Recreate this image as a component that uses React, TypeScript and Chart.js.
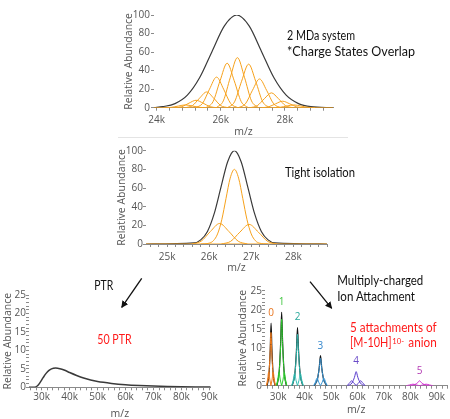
import React, { useEffect, useRef } from "react";
import { Chart, registerables } from "chart.js";
Chart.register(...registerables);

type Pt = [number, number];

// ---------------- DATA ----------------
// Panel 1: 2 MDa system, overlapping charge states
const topEnvelope: Pt[] = [
  [23920, 0], [24190, 1.1], [24575, 4.4], [24960, 13.5], [25345, 32.5], [25730, 60.7], [26115, 88.2],
  [26500, 100], [26885, 88.2], [27270, 60.7], [27655, 32.5], [28040, 13.5], [28425, 4.4], [28810, 1.1], [29500, 0],
];
const topStates: Pt[][] = [
  [[24240, 0], [24460, 0.4], [24680, 1.8], [24900, 3], [25120, 1.8], [25340, 0.4], [25560, 0]],
  [[24570, 0], [24790, 1.1], [25010, 4.9], [25230, 8], [25450, 4.9], [25670, 1.1], [25890, 0]],
  [[24900, 0], [25120, 2.3], [25340, 10.3], [25560, 17], [25780, 10.3], [26000, 2.3], [26220, 0]],
  [[25210, 0], [25430, 4.5], [25650, 20], [25870, 33], [26090, 20], [26310, 4.5], [26530, 0]],
  [[25540, 0], [25760, 6.5], [25980, 29.1], [26200, 48], [26420, 29.1], [26640, 6.5], [26860, 0]],
  [[25860, 0], [26080, 7.3], [26300, 32.8], [26520, 54], [26740, 32.8], [26960, 7.3], [27180, 0]],
  [[26210, 0], [26430, 6.3], [26650, 28.5], [26870, 47], [27090, 28.5], [27310, 6.3], [27530, 0]],
  [[26550, 0], [26770, 4.2], [26990, 18.8], [27210, 31], [27430, 18.8], [27650, 4.2], [27870, 0]],
  [[26920, 0], [27140, 2.2], [27360, 9.7], [27580, 16], [27800, 9.7], [28020, 2.2], [28240, 0]],
  [[27270, 0], [27490, 0.9], [27710, 4.2], [27930, 7], [28150, 4.2], [28370, 0.9], [28590, 0]],
  [[27620, 0], [27840, 0.4], [28060, 1.8], [28280, 3], [28500, 1.8], [28720, 0.4], [28940, 0]],
];
const topBaseline: Pt[] = [[23920, 0], [29500, 0]];
const topXLabels = [24000, 26000, 28000];

// Panel 2: tight isolation
const isoEnvelope: Pt[] = [
  [24500, 0], [25640, 1.1], [25800, 4.4], [25960, 13.5], [26120, 32.5], [26280, 60.7], [26440, 88.2],
  [26600, 100], [26760, 88.2], [26920, 60.7], [27080, 32.5], [27240, 13.5], [27400, 4.4], [27560, 1.1], [28800, 0],
];
const isoStates: Pt[][] = [
  [[25800, 0], [26000, 0.9], [26100, 3.5], [26200, 10.8], [26300, 26], [26400, 48.6], [26500, 70.6], [26600, 80],
   [26700, 70.6], [26800, 48.6], [26900, 26], [27000, 10.8], [27100, 3.5], [27200, 0.9], [27400, 0]],
  [[25590, 0], [25810, 3], [26030, 13.4], [26250, 22], [26470, 13.4], [26690, 3], [26910, 0]],
  [[26290, 0], [26510, 2.8], [26730, 12.7], [26950, 21], [27170, 12.7], [27390, 2.8], [27610, 0]],
];
const isoBaseline: Pt[] = [[24500, 0], [28800, 0]];
const isoXLabels = [25000, 26000, 27000, 28000];

// Panel 3: 50 PTR
const ptrCurve: Pt[] = [
  [25450, 0], [27500, 0], [28500, 0.4], [29500, 1.4], [30500, 2.6], [31500, 3.7], [32500, 4.5], [33500, 5.0],
  [35000, 5.2], [36500, 5.05], [38000, 4.7], [40000, 4.0], [42500, 3.2], [45000, 2.5], [47500, 1.95], [50000, 1.55],
  [55000, 1.05], [60000, 0.7], [65000, 0.48], [70000, 0.33], [75000, 0.23], [80000, 0.16], [85000, 0.11], [90500, 0.07],
];
const wideXLabels = [30000, 40000, 50000, 60000, 70000, 80000, 90000];

// Panel 4: multiply-charged ion attachment (0..5 attachments)
const attachLabels = ["0", "1", "2", "3", "4", "5"];
const attachCenters = [27300, 31300, 37300, 46000, 59500, 83500];
const attachTops = [16.5, 19.3, 15.3, 7.9, 3.7, 1.3];
const attachColors = ["#f07d1e", "#2fd12f", "#2fbdb3", "#3a98d8", "#5a3dcc", "#d22fd2"];
const attachLabelColors = ["#e8731c", "#3fc43f", "#27a89a", "#3386cc", "#6a4bc8", "#b43cb4"];
const attachBlack: Pt[][] = [
  [[25800, 0], [26550, 3.3], [27000, 9.9], [27300, 16.5], [27600, 9.9], [28050, 3.3], [28800, 0]],
  [[29500, 0], [30400, 3.9], [30940, 11.6], [31300, 19.3], [31660, 11.6], [32200, 3.9], [33100, 0]],
  [[35300, 0], [36300, 3.1], [36900, 9.2], [37300, 15.3], [37700, 9.2], [38300, 3.1], [39300, 0]],
  [[43600, 0], [44800, 1.6], [45520, 4.7], [46000, 7.9], [46480, 4.7], [47200, 1.6], [48400, 0]],
];
const attachColored: Pt[][][] = [
  [
    [[25600, 0], [26425, 2.8], [26920, 8.4], [27250, 14], [27580, 8.4], [28075, 2.8], [28900, 0]],
    [[25500, 0], [25950, 1.5], [26400, 3.6], [26850, 1.5], [27300, 0]],
    [[27200, 0], [27650, 1.5], [28100, 3.6], [28550, 1.5], [29000, 0]],
  ],
  [
    [[29400, 0], [30350, 3.5], [30920, 10.5], [31300, 17.5], [31680, 10.5], [32250, 3.5], [33200, 0]],
    [[29300, 0], [29800, 1.5], [30300, 3.5], [30800, 1.5], [31300, 0]],
    [[31300, 0], [31800, 1.5], [32300, 3.5], [32800, 1.5], [33300, 0]],
  ],
  [
    [[35200, 0], [36250, 2.7], [36880, 8.1], [37300, 13.5], [37720, 8.1], [38350, 2.7], [39400, 0]],
    [[35100, 0], [35650, 1.4], [36200, 3.2], [36750, 1.4], [37300, 0]],
    [[37300, 0], [37850, 1.4], [38400, 3.2], [38950, 1.4], [39500, 0]],
  ],
  [
    [[43400, 0], [44700, 1.4], [45480, 4.3], [46000, 7.2], [46520, 4.3], [47300, 1.4], [48600, 0]],
    [[43400, 0], [44050, 0.9], [44700, 2], [45350, 0.9], [46000, 0]],
    [[46000, 0], [46650, 0.9], [47300, 2], [47950, 0.9], [48600, 0]],
  ],
  [
    [[56300, 0], [57900, 0.7], [58860, 2.2], [59500, 3.7], [60140, 2.2], [61100, 0.7], [62700, 0]],
    [[56000, 0], [56900, 0.6], [57800, 1.3], [58700, 0.6], [59600, 0]],
    [[59400, 0], [60300, 0.6], [61200, 1.3], [62100, 0.6], [63000, 0]],
  ],
  [
    [[80000, 0], [81750, 0.3], [82800, 0.8], [83500, 1.3], [84200, 0.8], [85250, 0.3], [87000, 0]],
    [[78500, 0], [79750, 0.2], [81000, 0.4], [82250, 0.2], [83500, 0]],
    [[83500, 0], [84750, 0.2], [86000, 0.4], [87250, 0.2], [88500, 0]],
  ],
];

// ---------------- STYLE / LAYOUT ----------------
const AXIS_FONT = "'Open Sans', 'Noto Sans', sans-serif";
const NOTE_FONT = "Lato, 'Open Sans', sans-serif";
const TICK_COLOR = "#555555";
const TICK_SIZE = 10;
const TITLE_SIZE = 10.5;
const LH = TITLE_SIZE * 1.2;
const ORANGE = "#f6a11c";
const DARK = "#3a3a3a";

type Geo = {
  cx: number; cy: number; cw: number; ch: number;
  L: number; T: number; R: number; B: number;
  YT: number; XT: number; xPad: number; yPad: number;
};

type Spec = {
  geo: Geo;
  xMin: number; xMax: number; xLabels: number[]; xMinor: number;
  yMax: number; yMajor: number; yMinor: number;
  datasets: any[];
  plugins?: any[];
};

function range(a: number, b: number, step: number) {
  const out: number[] = [];
  for (let v = Math.ceil(a / step) * step; v <= b + 1e-9; v += step) out.push(v);
  return out;
}

function line(data: Pt[], color: string, width: number) {
  return {
    data: data.map(([x, y]) => ({ x, y })),
    borderColor: color,
    borderWidth: width,
    pointRadius: 0,
    fill: false,
    cubicInterpolationMode: "monotone",
  };
}

function buildConfig(s: Spec): any {
  const g = s.geo;
  const yBoxLeft = g.YT - LH / 2;
  const xBoxBottom = g.XT + LH / 2;
  const padding = {
    left: yBoxLeft - g.cx,
    top: g.T - g.cy,
    right: g.cx + g.cw - g.R,
    bottom: g.cy + g.ch - xBoxBottom,
  };
  const yWidth = g.L - yBoxLeft;
  const xHeight = xBoxBottom - g.B;
  const tickFont = { family: AXIS_FONT, size: TICK_SIZE };
  const titleFont = { family: AXIS_FONT, size: TITLE_SIZE, lineHeight: 1.2 };
  return {
    type: "line",
    data: { datasets: s.datasets },
    plugins: s.plugins || [],
    options: {
      responsive: false,
      animation: false,
      events: [],
      layout: { padding },
      plugins: { legend: { display: false }, tooltip: { enabled: false } },
      scales: {
        x: {
          type: "linear",
          min: s.xMin,
          max: s.xMax,
          afterBuildTicks: (axis: any) => {
            axis.ticks = range(s.xMin, s.xMax, s.xMinor).map((v) => ({ value: v }));
          },
          afterFit: (axis: any) => { axis.height = xHeight; },
          ticks: {
            autoSkip: false,
            maxRotation: 0,
            padding: g.xPad,
            color: TICK_COLOR,
            font: tickFont,
            callback: (v: number) =>
              s.xLabels.some((l) => Math.abs(l - v) < 1e-6) ? `${Math.round(v / 1000)}k` : "",
          },
          grid: { display: true, drawOnChartArea: false, drawTicks: true, tickLength: 3, color: "#8a8a8a" },
          border: { display: true, color: "#8a8a8a", width: 1 },
          title: { display: true, text: "m/z", color: TICK_COLOR, font: titleFont, padding: 0 },
        },
        y: {
          min: 0,
          max: s.yMax,
          afterBuildTicks: (axis: any) => {
            axis.ticks = range(0, s.yMax, s.yMinor).map((v) => ({ value: v }));
          },
          afterFit: (axis: any) => { axis.width = yWidth; },
          ticks: {
            autoSkip: false,
            padding: g.yPad,
            color: TICK_COLOR,
            font: tickFont,
            callback: (v: number) => (Math.abs(v % s.yMajor) < 1e-6 ? String(v) : ""),
          },
          grid: { display: true, drawOnChartArea: false, drawTicks: true, tickLength: 3, color: "#8a8a8a" },
          border: { display: false },
          title: { display: true, text: "Relative Abundance", color: TICK_COLOR, font: titleFont, padding: 0 },
        },
      },
    },
  };
}

function Panel({ spec }: { spec: Spec }) {
  const ref = useRef<HTMLCanvasElement>(null);
  useEffect(() => {
    const chart = new Chart(ref.current as HTMLCanvasElement, buildConfig(spec));
    return () => chart.destroy();
  }, []);
  const g = spec.geo;
  return (
    <canvas
      ref={ref}
      width={g.cw}
      height={g.ch}
      style={{ position: "absolute", left: g.cx, top: g.cy, width: g.cw, height: g.ch }}
    />
  );
}

const attachLabelPlugin = {
  id: "attachLabels",
  afterDatasetsDraw(chart: any) {
    const { ctx, scales } = chart;
    ctx.save();
    ctx.font = `10px ${AXIS_FONT}`;
    ctx.textAlign = "center";
    ctx.textBaseline = "middle";
    attachLabels.forEach((lab, i) => {
      ctx.fillStyle = attachLabelColors[i];
      const x = scales.x.getPixelForValue(attachCenters[i]);
      const y = scales.y.getPixelForValue(attachTops[i]) - 10;
      ctx.fillText(lab, x, y);
    });
    ctx.restore();
  },
};

const specTop: Spec = {
  geo: { cx: 100, cy: 5, cw: 245, ch: 137, L: 154, T: 15, R: 333, B: 107.7, YT: 129, XT: 132.5, xPad: 3, yPad: 1 },
  xMin: 23920, xMax: 29500, xLabels: topXLabels, xMinor: 400,
  yMax: 100, yMajor: 20, yMinor: 20,
  datasets: [
    line(topBaseline, ORANGE, 1),
    ...topStates.map((d) => line(d, ORANGE, 1)),
    line(topEnvelope, DARK, 1.2),
  ],
};

const specIso: Spec = {
  geo: { cx: 100, cy: 142, cw: 245, ch: 136, L: 146, T: 150.7, R: 327, B: 244, YT: 121.7, XT: 268.3, xPad: 4, yPad: 0 },
  xMin: 24500, xMax: 28800, xLabels: isoXLabels, xMinor: 200,
  yMax: 100, yMajor: 20, yMinor: 20,
  datasets: [
    line(isoBaseline, ORANGE, 1),
    ...isoStates.map((d) => line(d, ORANGE, 1)),
    line(isoEnvelope, DARK, 1.2),
  ],
};

const specPtr: Spec = {
  geo: { cx: 0, cy: 285, cw: 225, ch: 140, L: 29, T: 295, R: 210.7, B: 387.3, YT: 8.3, XT: 414, xPad: 1, yPad: 0 },
  xMin: 25450, xMax: 90500, xLabels: wideXLabels, xMinor: 2000,
  yMax: 25, yMajor: 5, yMinor: 1,
  datasets: [line(ptrCurve, "#3a3a3a", 1.5)],
};

const specAttach: Spec = {
  geo: { cx: 225, cy: 282, cw: 225, ch: 143, L: 265, T: 290.7, R: 447.3, B: 385.7, YT: 243.3, XT: 410, xPad: 2, yPad: 0 },
  xMin: 25000, xMax: 94000, xLabels: wideXLabels, xMinor: 2000,
  yMax: 25, yMajor: 5, yMinor: 1,
  datasets: [
    ...attachColored.flatMap((group, i) => group.map((d) => line(d, attachColors[i], 1))),
    ...attachBlack.map((d) => line(d, "#111111", 1.2)),
  ],
  plugins: [attachLabelPlugin],
};

function Notes() {
  const t = { fontFamily: NOTE_FONT, fontSize: 12.5, fill: "#111" } as any;
  const red = { fontFamily: NOTE_FONT, fontSize: 13, fill: "#ff1a1a" } as any;
  return (
    <svg width={450} height={419} style={{ position: "absolute", left: 0, top: 0, pointerEvents: "none" }}>
      <defs>
        <marker id="ah" viewBox="0 0 10 10" refX="9" refY="5" markerWidth="7" markerHeight="7"
          markerUnits="userSpaceOnUse" orient="auto">
          <path d="M0,0 L10,5 L0,10 z" fill="#111" />
        </marker>
      </defs>
      <line x1={118} y1={137.5} x2={348} y2={137.5} stroke="#e4e4e4" strokeWidth={1} />
      <text x={287} y={40} {...t} textLength={68} lengthAdjust="spacingAndGlyphs">2 MDa system</text>
      <text x={287} y={55.5} {...t} textLength={128} lengthAdjust="spacingAndGlyphs">*Charge States Overlap</text>
      <text x={285} y={176.5} {...t} textLength={70} lengthAdjust="spacingAndGlyphs">Tight isolation</text>
      <text x={94.3} y={290} {...t} textLength={19} lengthAdjust="spacingAndGlyphs">PTR</text>
      <text x={97.3} y={344} {...red} textLength={34.4} lengthAdjust="spacingAndGlyphs">50 PTR</text>
      <text x={337.3} y={285.3} {...t} textLength={86} lengthAdjust="spacingAndGlyphs">Multiply-charged</text>
      <text x={337.3} y={301.3} {...t} textLength={77.7} lengthAdjust="spacingAndGlyphs">Ion Attachment</text>
      <text x={350} y={332} {...red} textLength={86.7} lengthAdjust="spacingAndGlyphs">5 attachments of</text>
      <text x={350} y={347} {...red} textLength={41.7} lengthAdjust="spacingAndGlyphs">[M-10H]</text>
      <text x={392.3} y={343.5} {...red} fontSize={7.5} textLength={11.7} lengthAdjust="spacingAndGlyphs">10-</text>
      <text x={408.3} y={347} {...red} textLength={28.4} lengthAdjust="spacingAndGlyphs">anion</text>
      <line x1={141.7} y1={278.3} x2={121.7} y2={307.3} stroke="#111" strokeWidth={1.3} markerEnd="url(#ah)" />
      <line x1={310} y1={281.7} x2={331.7} y2={308.3} stroke="#111" strokeWidth={1.3} markerEnd="url(#ah)" />
    </svg>
  );
}

export default function App() {
  return (
    <div
      style={{
        position: "fixed", left: 0, top: 0, width: 450, height: 419,
        overflow: "hidden", background: "#ffffff",
      }}
    >
      <Panel spec={specTop} />
      <Panel spec={specIso} />
      <Panel spec={specPtr} />
      <Panel spec={specAttach} />
      <Notes />
    </div>
  );
}
